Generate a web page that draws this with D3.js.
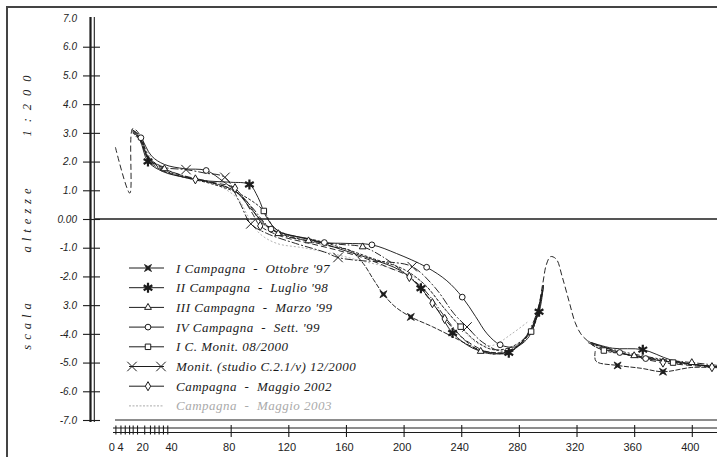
<!DOCTYPE html>
<html>
<head>
<meta charset="utf-8">
<script src="https://cdn.jsdelivr.net/npm/d3@7"></script>
<style>
  html, body { margin: 0; padding: 0; background: #fff; }
  svg { display: block; }
  text { white-space: pre; }
</style>
</head>
<body>
<svg id="chart" width="717" height="457"></svg>
<script>
// sezione: [distanza m, quota m, 1 = punto con simbolo]; null = tratto non rilevato
const camp97 = [[12,3.1],[17,2.8],[23,2.05],[33,1.68],[48,1.45],[65,1.28],[82,1.0],[93,0.5],[101,-0.1],[114,-0.5],
  [135,-0.78],[152,-0.98],[163,-1.1],[172,-1.55],[179,-2.1],[186,-2.62,1],[194,-3.05],[205,-3.41,1],[220,-3.75],
  [236,-4.15],[250,-4.5],[262,-4.65],[274,-4.6],[285,-4.15],[292,-3.4],[296,-2.5],null,
  [333,-4.6],[333.5,-4.95],[348.5,-5.1,1],[365,-5.2],[380,-5.32,1],[400,-5.17],[418,-5.18]]
const camp98 = [[12,3.05],[17,2.75],[22.6,2.0,1],[33,1.65],[48,1.45],[65,1.32],[80,1.28],[93,1.2,1],[99,0.75],
  [105,0.05],[114,-0.45],[135,-0.7],[156,-1.05],[178,-1.4],[198,-1.8],[212,-2.41,1],[224,-3.2],[234,-3.97,1],
  [248,-4.5],[260,-4.65],[273,-4.66,1],[285,-4.1],[294,-3.23,1],[297,-2.3],null,
  [330,-4.3],[345,-4.5],[366,-4.55,1],[385,-4.9],[400,-5.05],[418,-5.15]]
const camp99m = [[12,3.1],[18,2.85],[23,2.1],[34,1.75,1],[48,1.5],[65,1.3],[83,0.98],[95,0.4],[103,-0.1],
  [113,-0.51,1],[134,-0.76,1],[155,-0.88],[171.6,-0.97,1],[185,-1.3],[200,-1.85],[215,-2.5],[230,-3.5],[242,-4.2],
  [253.5,-4.61,1],[265,-4.7],[276,-4.55],[287,-4.0],[293,-3.2],[297,-2.3],null,
  [328,-4.25],[340,-4.55],[360,-4.76,1],[380,-4.9],[400,-5.0,1],[418,-5.1]]
const camp99s = [[12,3.1],[17.7,2.83,1],[25,2.2],[34,1.9],[48,1.75],[63,1.69,1],[75,1.3],[85,0.9],[95,0.3],
  [108,-0.35,1],[125,-0.6],[145,-0.82,1],[160,-0.85],[178,-0.9,1],[195,-1.2],[216,-1.68,1],[230,-2.15],
  [240.7,-2.72,1],[250,-3.4],[258,-4.0],[267,-4.38,1],[278,-4.45],[287,-4.1],[293,-3.3],[297,-2.4],null,
  [330,-4.3],[350,-4.65,1],[368,-4.86,1],[390,-5.0],[418,-5.16]]
const monit08 = [[12,3.0],[18,2.7],[23,2.1],[34,1.7],[48,1.45],[65,1.25],[83,0.95],[95,0.62],[103,0.28,1],
  [110,-0.3],[120,-0.55],[140,-0.75],[160,-1.05],[180,-1.4],[200,-1.75],[215,-2.3],[228,-3.1],[239.6,-3.75,1],
  [250,-4.25],[262,-4.55],[275,-4.45],[288.5,-3.92,1],[294,-3.1],[297,-2.3],null,
  [328,-4.3],[339,-4.58,1],[360,-4.75],[387,-5.0,1],[418,-5.15]]
const monit12 = [[12,3.05],[18,2.75],[24,2.1],[34,1.8],[49,1.72,1],[62,1.6],[76,1.45,1],[86,0.6],[94,-0.17,1],
  [105,-0.5],[125,-0.85],[145,-1.15],[154.5,-1.34,1],[170,-1.45],[190,-1.5],[206,-1.66,1],[222,-2.4],[235,-3.3],
  [244,-3.76,1],[255,-4.3],[268,-4.6],[280,-4.4],[290,-3.6],[296,-2.6],null,
  [330,-4.35],[350,-4.6],[375,-4.85],[400,-5.05],[418,-5.15]]
const camp02 = [[0,2.5],[10,0.9],[12,3.15],[16,3.0],[22,2.2],[34,1.75],[55.5,1.38,1],[70,1.25],[83,1.07,1],
  [95,0.2],[100.5,-0.24,1],[115,-0.6],[135,-0.85],[155,-1.1],[175,-1.4],[190,-1.7],[204,-2.02,1],[220,-2.93,1],
  [228.5,-3.48,1],[240,-4.1],[252,-4.5],[262,-4.7],[273,-4.6],[283,-4.2],[291,-3.6],[296.6,-2.24],[299,-1.6],
  [302,-1.31],[306,-1.4],[310,-2.0],[315,-2.9],[319,-3.6],[323,-4.0],[328,-4.26],[335,-4.5],[348,-4.62],
  [360,-4.8],[380,-5.0,1],[414,-5.16,1]]
const camp03 = [[12,3.0],[20,2.5],[30,1.8],[50,1.45],[70,1.2],[85,0.7],[92,0.1],[100,-0.5],[112,-0.85],
  [130,-1.0],[150,-1.2],[170,-1.45],[190,-1.7],[210,-2.1],[225,-2.9],[240,-3.8],[252,-4.35],[262,-4.4],
  [275,-4.0],[287,-3.55]]

const seriesNames = ["I Campagna  -  Ottobre '97", "II Campagna  -  Luglio '98", "III Campagna  -  Marzo '99",
  "IV Campagna  -  Sett. '99", "I C. Monit. 08/2000", "Monit. (studio C.2.1/v) 12/2000",
  "Campagna  -  Maggio 2002", "Campagna  -  Maggio 2003"]

const yTicks = [7, 6, 5, 4, 3, 2, 1, 0, -1, -2, -3, -4, -5, -6, -7]
const yTickLabels = ['7.0','6.0','5.0','4.0','3.0','2.0','1.0','0.00','-1.0','-2.0','3.0','-4.0','-5.0','-6.0','-7.0']
const xLabelTicks = [0, 4, 20, 40, 80, 120, 160, 200, 240, 280, 320, 360, 400]
const xMajorTicks = [80, 120, 160, 200, 240, 280, 320, 360, 400]
const xMinorTicks = [0, 3.5, 6.5, 9.5, 12, 15, 20, 24, 27, 30, 33, 36]

const INK = '#1c1c1c'
const SERIES = [
  { data: camp97,  mark: 'star4',    dash: '5,1.5' },
  { data: camp98,  mark: 'asterisk', dash: null },
  { data: camp99m, mark: 'triangle', dash: '7,2,1.5,2' },
  { data: camp99s, mark: 'circle',   dash: null },
  { data: monit08, mark: 'square',   dash: '3,1.5' },
  { data: monit12, mark: 'x',        dash: '8,2,2,2' },
  { data: camp02,  mark: 'diamond',  dash: '6,3' },
  { data: camp03,  mark: null,       dash: '2,2', gray: true },
]

const svg = d3.select('#chart')
const x = d3.scaleLinear().domain([0, 400]).range([115.4, 691.8])
const y = d3.scaleLinear().domain([-7, 7]).range([420, 18])

// cornice
svg.append('path').attr('d', 'M7,457V7H717').attr('fill', 'none').attr('stroke', '#444').attr('stroke-width', 2)

// titolo asse verticale
const titleParts = [['scala', 324, 5], ['altezze', 218, 5], ['1:200', 102, 8]]
titleParts.forEach(([t, cy, ls]) => {
  svg.append('text').text(t)
    .attr('transform', `translate(31,${cy}) rotate(-90)`)
    .attr('text-anchor', 'middle').attr('letter-spacing', ls)
    .attr('font-family', 'Liberation Serif').attr('font-style', 'italic')
    .attr('font-size', 12.5).attr('fill', '#222')
})

// asse quote
const yAxis = svg.append('g').attr('transform', 'translate(100,0)')
  .call(d3.axisLeft(y).tickValues(yTicks).tickFormat((d, i) => yTickLabels[i]).tickSize(17).tickPadding(6))
yAxis.select('.domain').remove()
yAxis.selectAll('.tick line').attr('stroke', INK).attr('stroke-width', 1.1)
  .attr('opacity', d => d === 7 ? 0 : 1)
yAxis.selectAll('.tick text').attr('font-family', 'Liberation Sans').attr('font-style', 'italic')
  .attr('font-size', 10).attr('fill', '#222')
svg.append('line').attr('x1', 90.5).attr('x2', 90.5).attr('y1', 17).attr('y2', 422)
  .attr('stroke', INK).attr('stroke-width', 2.2)
svg.append('line').attr('x1', 94.3).attr('x2', 94.3).attr('y1', 17).attr('y2', 422)
  .attr('stroke', INK).attr('stroke-width', 1.1)

// quota zero e -7
svg.append('line').attr('x1', 95).attr('x2', 717).attr('y1', y(0)).attr('y2', y(0))
  .attr('stroke', INK).attr('stroke-width', 1.3)
svg.append('line').attr('x1', 115).attr('x2', 717).attr('y1', y(-7)).attr('y2', y(-7))
  .attr('stroke', INK).attr('stroke-width', 1.1)

// asse distanze
svg.append('line').attr('x1', 113).attr('x2', 717).attr('y1', 428).attr('y2', 428).attr('stroke', INK).attr('stroke-width', 1.2)
svg.append('line').attr('x1', 113).attr('x2', 717).attr('y1', 432.5).attr('y2', 432.5).attr('stroke', INK).attr('stroke-width', 1.2)
const xMajor = svg.append('g').attr('transform', 'translate(0,425)')
  .call(d3.axisBottom(x).tickValues(xMajorTicks).tickFormat('').tickSize(12))
const xMinor = svg.append('g').attr('transform', 'translate(0,425.5)')
  .call(d3.axisBottom(x).tickValues(xMinorTicks).tickFormat('').tickSize(9))
;[xMajor, xMinor].forEach(g => {
  g.select('.domain').remove()
  g.selectAll('.tick line').attr('stroke', INK).attr('stroke-width', 1.1)
})
const xLab = svg.append('g').attr('transform', 'translate(-2,437)')
  .call(d3.axisBottom(x).tickValues(xLabelTicks).tickFormat(d3.format('d')).tickSize(0).tickPadding(6))
xLab.select('.domain').remove()
xLab.selectAll('.tick text').attr('font-family', 'Liberation Sans Narrow, Liberation Sans').attr('font-size', 11).attr('fill', '#222')
  .attr('dx', d => d === 0 ? -2 : d === 4 ? 1 : 0)

// simboli
const star4 = {
  draw(ctx, size) {
    const r = Math.sqrt(size) * 0.9, q = r * 0.3
    for (let k = 0; k < 8; k++) {
      const a = k * Math.PI / 4 + Math.PI / 4
      const rr = k % 2 ? q : r
      const px = rr * Math.cos(a), py = rr * Math.sin(a)
      k ? ctx.lineTo(px, py) : ctx.moveTo(px, py)
    }
    ctx.closePath()
  }
}
const MARKS = {
  star4:    { type: star4, size: 30, fill: INK, sw: 0.8 },
  asterisk: { type: d3.symbolAsterisk || d3.symbolCross, size: 70, fill: 'none', sw: 2.2 },
  triangle: { type: d3.symbolTriangle, size: 20, fill: '#fff', sw: 1 },
  circle:   { type: d3.symbolCircle, size: 26, fill: '#fff', sw: 1 },
  square:   { type: d3.symbolSquare, size: 30, fill: '#fff', sw: 1 },
  x:        { type: d3.symbolTimes || d3.symbolX, size: 60, fill: 'none', sw: 1 },
  diamond:  { type: d3.symbolDiamond, size: 24, fill: '#fff', sw: 1 },
}
function drawMark(g, kind, px, py) {
  const m = MARKS[kind]
  g.append('path').attr('d', d3.symbol(m.type, m.size)())
    .attr('transform', `translate(${px},${py})`)
    .attr('fill', m.fill).attr('stroke', INK).attr('stroke-width', m.sw)
}

// profili
const line = d3.line().defined(p => p !== null)
  .x(p => x(p[0])).y(p => y(p[1]))
  .curve(d3.curveCatmullRom.alpha(0.5))

const plot = svg.append('g')
SERIES.slice().reverse().forEach(s => {
  plot.append('path').attr('d', line(s.data))
    .attr('fill', 'none')
    .attr('stroke', s.gray ? '#aaa' : INK)
    .attr('stroke-width', s.gray ? 0.9 : 0.95)
    .attr('stroke-dasharray', s.dash)
})
SERIES.forEach(s => {
  if (!s.mark) return
  s.data.filter(p => p && p[2]).forEach(p => drawMark(plot, s.mark, x(p[0]), y(p[1])))
})

// legenda
const legend = svg.append('g')
SERIES.forEach((s, i) => {
  const ly = 268 + i * 19.7
  legend.append('line').attr('x1', 129).attr('x2', 164).attr('y1', ly).attr('y2', ly)
    .attr('stroke', s.gray ? '#aaa' : INK).attr('stroke-width', 1)
    .attr('stroke-dasharray', s.gray ? '2,1.5' : null)
  if (s.mark === 'x') {
    drawMark(legend, 'x', 132, ly)
    drawMark(legend, 'x', 161, ly)
  } else if (s.mark) {
    drawMark(legend, s.mark, 148, ly)
  }
  legend.append('text').text(seriesNames[i])
    .attr('x', 176).attr('y', ly + 4.5)
    .attr('font-family', 'Liberation Serif').attr('font-style', 'italic')
    .attr('font-size', 13).attr('letter-spacing', 0.5)
    .attr('fill', s.gray ? '#aaa' : '#1a1a1a')
})
</script>
</body>
</html>
